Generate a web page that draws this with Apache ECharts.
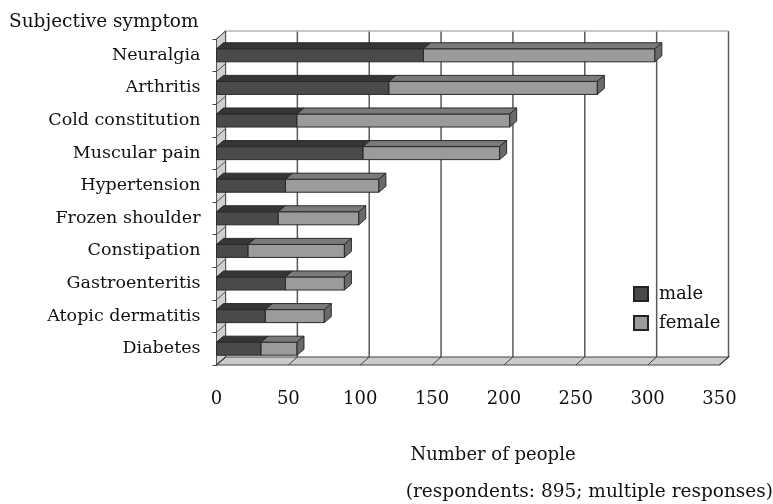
<!DOCTYPE html>
<html>
<head>
<meta charset="utf-8">
<script src="https://cdn.jsdelivr.net/npm/echarts@6/dist/echarts.min.js"></script>
<style>
  html, body { margin: 0; padding: 0; background: #fff; }
  #chart { width: 773px; height: 504px; }
</style>
</head>
<body>
<div id="chart"></div>
<script>
// Survey data: subjective symptoms by sex (respondents: 895, multiple responses)
const categories = ['Neuralgia', 'Arthritis', 'Cold constitution', 'Muscular pain', 'Hypertension',
  'Frozen shoulder', 'Constipation', 'Gastroenteritis', 'Atopic dermatitis', 'Diabetes'];
const male = [144, 120, 56, 102, 48, 43, 22, 48, 34, 31];
const female = [161, 145, 148, 95, 65, 56, 67, 41, 41, 25];
const xTicks = [0, 50, 100, 150, 200, 250, 300, 350];

const FONT = 'DejaVu Serif';
const DEPTH = [9, -8];      // wall / floor depth offset
const BAR_DEPTH = [7, -6];  // bar depth offset
const BAR_RATIO = 0.4;

const colors = {
  male: { front: '#4a4a4a', top: '#363636', cap: '#3c3c3c' },
  female: { front: '#9b9b9b', top: '#7a7a7a', cap: '#6a6a6a' }
};

// stacked segments: [categoryIndex, start, end]
const maleSeg = male.map((v, i) => [i, 0, v]);
const femaleSeg = female.map((v, i) => [i, male[i], male[i] + v]);

function barRenderer(pal) {
  return function (params, api) {
    const cat = api.value(0);
    const p0 = api.coord([api.value(1), cat]);
    const p1 = api.coord([api.value(2), cat]);
    const band = api.size([0, 1])[1];
    const h = band * BAR_RATIO;
    const top = p0[1] - h / 2, bot = p0[1] + h / 2;
    const [dx, dy] = BAR_DEPTH;
    const stroke = { stroke: '#2a2a2a', lineWidth: 1 };
    return {
      type: 'group',
      children: [
        { type: 'rect', shape: { x: p0[0], y: top, width: p1[0] - p0[0], height: h },
          style: Object.assign({ fill: pal.front }, stroke) },
        { type: 'polygon', shape: { points: [[p0[0], top], [p0[0] + dx, top + dy], [p1[0] + dx, top + dy], [p1[0], top]] },
          style: Object.assign({ fill: pal.top }, stroke) },
        { type: 'polygon', shape: { points: [[p1[0], top], [p1[0] + dx, top + dy], [p1[0] + dx, bot + dy], [p1[0], bot]] },
          style: Object.assign({ fill: pal.cap }, stroke) }
      ]
    };
  };
}

// walls, floor and back gridlines
function frameRenderer(params, api) {
  const cs = params.coordSys;
  const [dx, dy] = DEPTH;
  const x0 = cs.x, y0 = cs.y, x1 = cs.x + cs.width, y1 = cs.y + cs.height;
  const band = cs.height / categories.length;
  const children = [];
  // back wall gridlines
  xTicks.forEach(t => {
    const x = api.coord([t, 0])[0] + dx;
    children.push({ type: 'line', shape: { x1: x, y1: y0 + dy, x2: x, y2: y1 + dy },
      style: { stroke: t === 0 ? '#888' : '#5a5a5a', lineWidth: 1.5 } });
  });
  // top edge of back wall
  children.push({ type: 'line', shape: { x1: x0 + dx, y1: y0 + dy, x2: x1 + dx, y2: y0 + dy },
    style: { stroke: '#b5b5b5', lineWidth: 1.5 } });
  // left side wall
  children.push({ type: 'polygon', shape: { points: [[x0, y0], [x0 + dx, y0 + dy], [x0 + dx, y1 + dy], [x0, y1]] },
    style: { fill: '#cfcfcf', stroke: '#555', lineWidth: 1 } });
  for (let i = 0; i <= categories.length; i++) {
    const y = y0 + i * band;
    children.push({ type: 'line', shape: { x1: x0, y1: y, x2: x0 + dx, y2: y + dy },
      style: { stroke: '#555', lineWidth: 1 } });
  }
  // floor
  children.push({ type: 'polygon', shape: { points: [[x0, y1], [x0 + dx, y1 + dy], [x1 + dx, y1 + dy], [x1, y1]] },
    style: { fill: '#cbcbcb', stroke: '#444', lineWidth: 1.2 } });
  xTicks.forEach(t => {
    const x = api.coord([t, 0])[0];
    children.push({ type: 'line', shape: { x1: x, y1: y1, x2: x + dx, y2: y1 + dy },
      style: { stroke: '#444', lineWidth: 1 } });
  });
  return { type: 'group', children };
}

const chart = echarts.init(document.getElementById('chart'), null, { renderer: 'canvas' });
chart.setOption({
  animation: false,
  backgroundColor: '#fff',
  textStyle: { fontFamily: FONT, color: '#111' },
  title: [
    { text: 'Subjective symptom', left: 9, top: 13, padding: 0,
      textStyle: { fontFamily: FONT, fontSize: 18.5, fontWeight: 'normal', color: '#111' } },
    { text: 'Number of people', left: 493, top: 446, textAlign: 'center', padding: 0,
      textStyle: { fontFamily: FONT, fontSize: 18, fontWeight: 'normal', color: '#111' } },
    { text: '(respondents: 895; multiple responses)', right: 0, top: 483, padding: 0,
      textStyle: { fontFamily: FONT, fontSize: 18.5, fontWeight: 'normal', color: '#111' } }
  ],
  legend: {
    data: ['male', 'female'],
    orient: 'vertical',
    left: 633, top: 285, padding: 0,
    itemWidth: 14, itemHeight: 14, itemGap: 11,
    icon: 'rect',
    textStyle: { fontFamily: FONT, fontSize: 18, color: '#111', padding: [0, 0, 0, 6] }
  },
  grid: { left: 216.5, top: 39, width: 503, height: 326 },
  xAxis: {
    type: 'value', min: 0, max: 350, interval: 50,
    axisLine: { show: false }, axisTick: { show: false }, splitLine: { show: false },
    axisLabel: { fontFamily: FONT, fontSize: 18, color: '#111', margin: 25 }
  },
  yAxis: {
    type: 'category', data: categories, inverse: true,
    axisLine: { show: true, lineStyle: { color: '#444', width: 1 } },
    axisTick: { show: true, length: 4, lineStyle: { color: '#444' } },
    axisLabel: { fontFamily: FONT, fontSize: 17.5, color: '#111', margin: 16 }
  },
  series: [
    { type: 'custom', name: 'frame', silent: true, z: 1, renderItem: frameRenderer,
      data: [[0, 0, 0]], encode: { x: 1, y: 0 } },
    { type: 'custom', name: 'male', z: 3, renderItem: barRenderer(colors.male),
      itemStyle: { color: colors.male.front, borderColor: '#222', borderWidth: 1.5 },
      data: maleSeg, encode: { x: [1, 2], y: 0 } },
    { type: 'custom', name: 'female', z: 3, renderItem: barRenderer(colors.female),
      itemStyle: { color: colors.female.front, borderColor: '#222', borderWidth: 1.5 },
      data: femaleSeg, encode: { x: [1, 2], y: 0 } }
  ]
});
</script>
</body>
</html>
